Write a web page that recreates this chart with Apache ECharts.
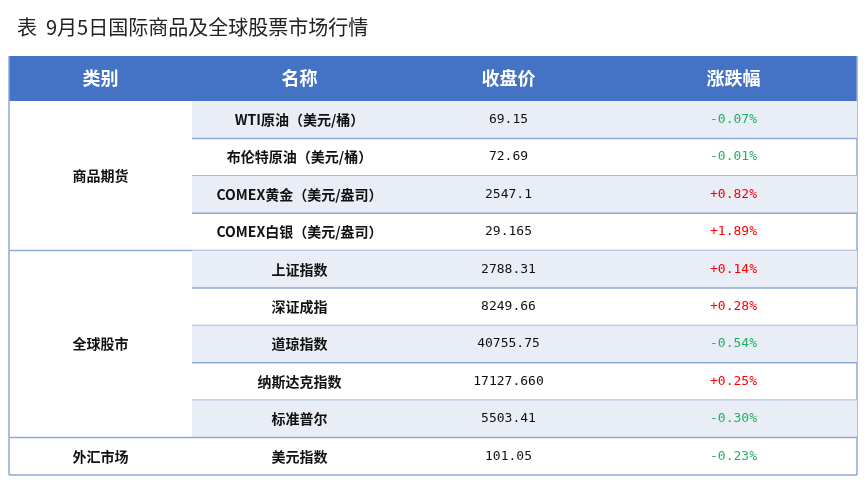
<!DOCTYPE html>
<html lang="zh">
<head>
<meta charset="UTF-8">
<title>国际商品及全球股票市场行情</title>
<script src="https://cdn.jsdelivr.net/npm/echarts@6/dist/echarts.min.js"></script>
<style>
  body { margin: 0; background: #fff; }
  #chart { width: 865px; height: 482px; }
</style>
</head>
<body>
<div id="chart"></div>
<script>
var headers = ['类别', '名称', '收盘价', '涨跌幅'];
var names = ['WTI原油（美元/桶）', '布伦特原油（美元/桶）', 'COMEX黄金（美元/盎司）', 'COMEX白银（美元/盎司）',
  '上证指数', '深证成指', '道琼指数', '纳斯达克指数', '标准普尔', '美元指数'];
var closes = ['69.15', '72.69', '2547.1', '29.165', '2788.31', '8249.66', '40755.75', '17127.660', '5503.41', '101.05'];
var changes = ['-0.07%', '-0.01%', '+0.82%', '+1.89%', '+0.14%', '+0.28%', '-0.54%', '+0.25%', '-0.30%', '-0.23%'];
var groups = [['商品期货', 0, 3], ['全球股市', 4, 8], ['外汇市场', 9, 9]];

// column edges in table units
var colEdges = [0, 183, 398, 601, 848];
var lineColor = '#8EA9DB';
var font = '"Noto Sans CJK SC", sans-serif';
var mono = '"DejaVu Sans Mono", "Liberation Mono", monospace';

var rowIdx = names.map(function (n, i) { return i; });
var chart = echarts.init(document.getElementById('chart'));

function renderRow(params, api) {
  var i = api.value(0);
  var tl = api.coord([colEdges[1], i]);
  var h = api.size([0, 1])[1];
  var y0 = tl[1] - h / 2;
  var kids = [];
  if (i % 2 === 0 && i < 9) {
    kids.push({ type: 'rect', shape: { x: tl[0], y: y0, width: api.coord([colEdges[4], i])[0] - tl[0], height: h },
      style: { fill: '#E9EDF5' } });
  }
  var cells = [names[i], closes[i], changes[i]];
  for (var c = 0; c < 3; c++) {
    var cx = (api.coord([colEdges[c + 1], i])[0] + api.coord([colEdges[c + 2], i])[0]) / 2;
    var fill = '#111';
    if (c === 2) fill = cells[2].charAt(0) === '+' ? '#FF0000' : '#1FB264';
    kids.push({ type: 'text', x: cx, y: tl[1], style: {
      text: cells[c], align: 'center', verticalAlign: 'middle', fill: fill,
      font: (c === 0 ? 'bold 14px ' + font : '13px ' + mono) } });
  }
  var isGroupEnd = groups.some(function (g) { return g[2] === i; });
  var lx = isGroupEnd ? api.coord([colEdges[0], i])[0] : tl[0];
  kids.push({ type: 'line', shape: { x1: lx, y1: y0 + h, x2: api.coord([colEdges[4], i])[0], y2: y0 + h },
    style: { stroke: lineColor, lineWidth: 1.5 } });
  return { type: 'group', children: kids };
}

function renderGroup(params, api) {
  var a = api.value(1), b = api.value(2);
  var h = api.size([0, 1])[1];
  var x = (api.coord([colEdges[0], a])[0] + api.coord([colEdges[1], a])[0]) / 2;
  var y = (api.coord([0, a])[1] + api.coord([0, b])[1]) / 2;
  return { type: 'text', x: x, y: y, style: { text: groups[params.dataIndex][0], align: 'center',
    verticalAlign: 'middle', fill: '#111', font: 'bold 14px ' + font } };
}

chart.setOption({
  animation: false,
  title: { text: '表  9月5日国际商品及全球股票市场行情', left: 12, top: 12,
    textStyle: { fontFamily: font, fontWeight: 'normal', fontSize: 20, color: '#222' } },
  grid: { left: 9, right: 8, top: 101, bottom: 7 },
  xAxis: { type: 'value', min: 0, max: 848, show: false },
  yAxis: { type: 'category', data: rowIdx, inverse: true, show: false },
  graphic: [
    { type: 'rect', shape: { x: 9, y: 56, width: 848, height: 45 }, style: { fill: '#4472C4' } },
    { type: 'line', shape: { x1: 9, y1: 56, x2: 9, y2: 475 }, style: { stroke: lineColor, lineWidth: 1.5 } },
    { type: 'line', shape: { x1: 857, y1: 56, x2: 857, y2: 475 }, style: { stroke: lineColor, lineWidth: 1.5 } }
  ].concat(headers.map(function (t, c) {
    return { type: 'text', x: 9 + (colEdges[c] + colEdges[c + 1]) / 2, y: 78, z: 10,
      style: { text: t, align: 'center', verticalAlign: 'middle', fill: '#fff', font: 'bold 18px ' + font } };
  })),
  series: [
    { type: 'custom', renderItem: renderRow, data: rowIdx.map(function (i) { return [i]; }), encode: { y: 0 } },
    { type: 'custom', renderItem: renderGroup, data: groups.map(function (g) { return [g[1], g[1], g[2]]; }), encode: { y: 0 } }
  ]
});
</script>
</body>
</html>
